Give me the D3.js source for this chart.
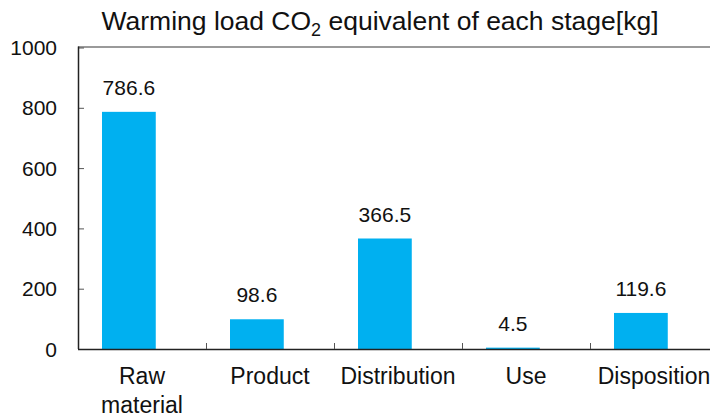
<!DOCTYPE html>
<html>
<head>
<meta charset="utf-8">
<script src="https://cdn.jsdelivr.net/npm/d3@7"></script>
<style>
  html, body { margin: 0; padding: 0; background: #fff; }
  svg { display: block; font-family: "Liberation Sans", Arial, sans-serif; }
</style>
</head>
<body>
<svg id="chart" width="710" height="419"></svg>
<script>
const categories = [["Raw", "material"], ["Product"], ["Distribution"], ["Use"], ["Disposition"]];
const values = [786.6, 98.6, 366.5, 4.5, 119.6];
const yTicks = [0, 200, 400, 600, 800, 1000];
const titleMain = "Warming load CO";
const titleSub = "2";
const titleRest = " equivalent of each stage[kg]";

(function () {
const svg = d3.select("#chart");
const W = 710;
const mLeft = 78, mRight = 718, mTop = 47.5, mBottom = 349;

const keys = categories.map((c, i) => i);
const x = d3.scaleBand().domain(keys).range([mLeft, mRight]).paddingInner(0).paddingOuter(0);
const y = d3.scaleLinear().domain([0, 1000]).range([mBottom, mTop]);

// title
const t = svg.append("text")
  .attr("x", 380).attr("y", 30)
  .attr("text-anchor", "middle")
  .attr("font-size", 26.5)
  .attr("fill", "#111");
t.append("tspan").text(titleMain);
t.append("tspan").attr("font-size", 18).attr("dy", 6).text(titleSub);
t.append("tspan").attr("dy", -6).text(titleRest);

// top border of plot area
svg.append("line")
  .attr("x1", mLeft).attr("x2", W)
  .attr("y1", y(1000) - 0.5).attr("y2", y(1000) - 0.5)
  .attr("stroke", "#9a9a9a").attr("stroke-width", 2);

// bars
const bw = x.bandwidth();
svg.append("g").selectAll("rect")
  .data(values)
  .join("rect")
  .attr("x", (d, i) => x(i) + bw * 0.1875)
  .attr("width", bw * 0.42)
  .attr("y", d => y(d))
  .attr("height", d => y(0) - y(d))
  .attr("fill", "#00B0F0");

// value labels
svg.append("g").selectAll("text")
  .data(values)
  .join("text")
  .attr("x", (d, i) => x(i) + bw * 0.1875 + bw * 0.21)
  .attr("y", d => y(d) - 17)
  .attr("text-anchor", "middle")
  .attr("font-size", 21)
  .attr("fill", "#111")
  .text(d => d.toFixed(1));

// y axis
const yAxis = d3.axisRight(y).tickValues(yTicks).tickSize(6).tickFormat("");
const gy = svg.append("g").attr("transform", `translate(${mLeft},0)`).call(yAxis);
gy.select(".domain").remove();
gy.selectAll(".tick line").attr("stroke", "#555");
svg.append("line")
  .attr("x1", mLeft + 0.5).attr("x2", mLeft + 0.5)
  .attr("y1", y(1000) - 1).attr("y2", y(0))
  .attr("stroke", "#222").attr("stroke-width", 1.5);

svg.append("g").selectAll("text")
  .data(yTicks)
  .join("text")
  .attr("x", 57)
  .attr("y", d => y(d) + 7.5)
  .attr("text-anchor", "end")
  .attr("font-size", 21)
  .attr("fill", "#111")
  .text(d => d);

// x axis line
svg.append("line")
  .attr("x1", mLeft).attr("x2", W)
  .attr("y1", y(0) + 0.5).attr("y2", y(0) + 0.5)
  .attr("stroke", "#222").attr("stroke-width", 1.5);

// category boundary ticks
svg.append("g").selectAll("line")
  .data(keys.slice(1))
  .join("line")
  .attr("x1", d => x(d) + 0.5).attr("x2", d => x(d) + 0.5)
  .attr("y1", y(0)).attr("y2", y(0) - 6)
  .attr("stroke", "#555");

// category labels
const cl = svg.append("g").selectAll("text")
  .data(categories)
  .join("text")
  .attr("x", (d, i) => x(i) + bw / 2)
  .attr("y", 384)
  .attr("text-anchor", "middle")
  .attr("font-size", 23)
  .attr("fill", "#111");
cl.selectAll("tspan")
  .data(d => d)
  .join("tspan")
  .attr("x", function () { return d3.select(this.parentNode).attr("x"); })
  .attr("dy", (d, i) => i === 0 ? 0 : 29)
  .text(d => d);
})();
</script>
</body>
</html>
